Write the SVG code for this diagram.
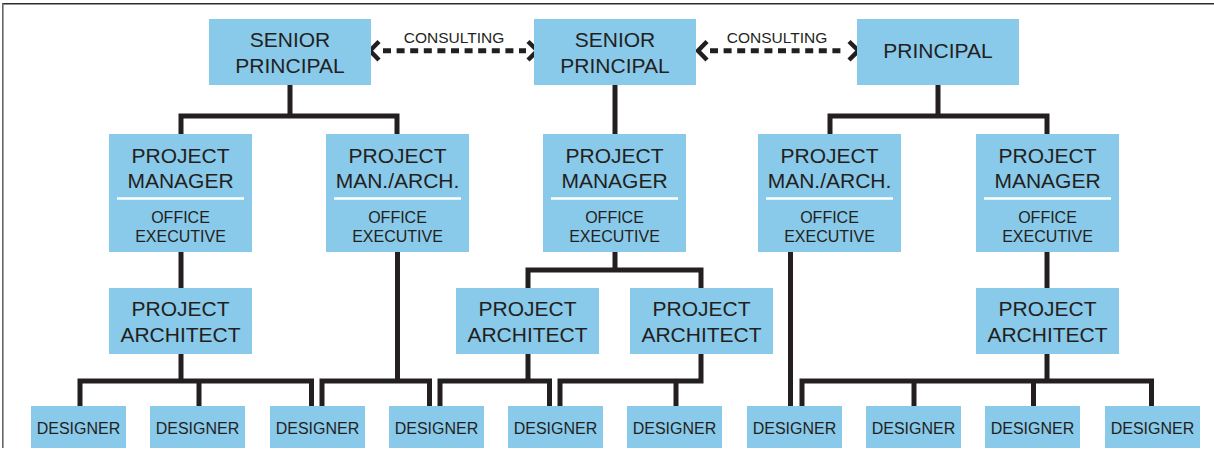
<svg xmlns="http://www.w3.org/2000/svg" width="1214" height="449" viewBox="0 0 1214 449">
<style>
.box{fill:#89c9ea}
.t{font-family:"Liberation Sans",Arial,sans-serif;fill:#231f20;text-anchor:middle}
.big{font-size:21px}
.sm{font-size:16px}
.lbl{font-size:15.5px}
.sep{stroke:#ffffff;stroke-width:2.5}
.ln{fill:none;stroke:#231f20;stroke-width:5;stroke-linejoin:miter;stroke-linecap:butt}
.dash{fill:none;stroke:#231f20;stroke-width:5;stroke-dasharray:8 5.6}
.chev{fill:none;stroke:#231f20;stroke-width:4.5;stroke-linejoin:miter}
</style>
<rect width="1214" height="449" fill="#ffffff"/>
<g id="frame">
<line x1="2" y1="3.8" x2="1214" y2="3.8" stroke="#2b2b2b" stroke-width="1.6"/>
<line x1="2.8" y1="3" x2="2.8" y2="448" stroke="#666666" stroke-width="1.6"/>
</g>
<g id="connectors">
<path class="dash" d="M383 50.7H526"/>
<polyline class="chev" points="379,41.5 370,50.7 379,60"/>
<polyline class="chev" points="528,41.5 537.5,50.7 528,60"/>
<path class="dash" d="M710 50.7H846"/>
<polyline class="chev" points="707,41.5 698,50.7 707,60"/>
<polyline class="chev" points="849,41.5 858.5,50.7 849,60"/>
<path class="ln" d="M290 85V116M181 134V116H397V134"/>
<path class="ln" d="M615 85V134"/>
<path class="ln" d="M938 85V116M830 134V116H1047V134"/>
<path class="ln" d="M181 252V288"/>
<path class="ln" d="M181 354V381M80 406V381H311.5V406M199 381V406"/>
<path class="ln" d="M397.5 252V381M322 406V381H429.5V406"/>
<path class="ln" d="M615 252V270M528 288V270H701V288"/>
<path class="ln" d="M528 354V381M440 406V381H549.5V406"/>
<path class="ln" d="M701 354V381H560V406M676 381V406"/>
<path class="ln" d="M790.5 252V406"/>
<path class="ln" d="M1047 252V288"/>
<path class="ln" d="M1047 354V381M802 406V381H1151.5V406M914 381V406M1033.5 381V406"/>
</g>
<g id="consult1"><text class="t lbl" x="454" y="42.7">CONSULTING</text></g>
<g id="consult2"><text class="t lbl" x="777" y="42.7">CONSULTING</text></g>
<g id="senior1"><rect class="box" x="209" y="19" width="162" height="66"/>
<text class="t big" x="290" y="47">SENIOR</text><text class="t big" x="290" y="73">PRINCIPAL</text></g>
<g id="senior2"><rect class="box" x="534" y="19" width="162" height="66"/>
<text class="t big" x="615" y="47">SENIOR</text><text class="t big" x="615" y="73">PRINCIPAL</text></g>
<g id="principal"><rect class="box" x="857" y="19" width="162" height="66"/>
<text class="t big" x="938" y="58.3">PRINCIPAL</text></g>
<g id="pm1"><rect class="box" x="109" y="134" width="143" height="118"/>
<text class="t big" x="180.5" y="162.5">PROJECT</text><text class="t big" x="180.5" y="188">MANAGER</text>
<line class="sep" x1="117" y1="198.5" x2="244" y2="198.5"/>
<text class="t sm" x="180.5" y="222.5">OFFICE</text><text class="t sm" x="180.5" y="241.5">EXECUTIVE</text></g>
<g id="pma1"><rect class="box" x="326" y="134" width="143" height="118"/>
<text class="t big" x="397.5" y="162.5">PROJECT</text><text class="t big" x="397.5" y="188">MAN./ARCH.</text>
<line class="sep" x1="334" y1="198.5" x2="461" y2="198.5"/>
<text class="t sm" x="397.5" y="222.5">OFFICE</text><text class="t sm" x="397.5" y="241.5">EXECUTIVE</text></g>
<g id="pm2"><rect class="box" x="543" y="134" width="143" height="118"/>
<text class="t big" x="614.5" y="162.5">PROJECT</text><text class="t big" x="614.5" y="188">MANAGER</text>
<line class="sep" x1="551" y1="198.5" x2="678" y2="198.5"/>
<text class="t sm" x="614.5" y="222.5">OFFICE</text><text class="t sm" x="614.5" y="241.5">EXECUTIVE</text></g>
<g id="pma2"><rect class="box" x="758" y="134" width="143" height="118"/>
<text class="t big" x="829.5" y="162.5">PROJECT</text><text class="t big" x="829.5" y="188">MAN./ARCH.</text>
<line class="sep" x1="766" y1="198.5" x2="893" y2="198.5"/>
<text class="t sm" x="829.5" y="222.5">OFFICE</text><text class="t sm" x="829.5" y="241.5">EXECUTIVE</text></g>
<g id="pm3"><rect class="box" x="976" y="134" width="143" height="118"/>
<text class="t big" x="1047.5" y="162.5">PROJECT</text><text class="t big" x="1047.5" y="188">MANAGER</text>
<line class="sep" x1="984" y1="198.5" x2="1111" y2="198.5"/>
<text class="t sm" x="1047.5" y="222.5">OFFICE</text><text class="t sm" x="1047.5" y="241.5">EXECUTIVE</text></g>
<g id="pa1"><rect class="box" x="109" y="288" width="143" height="66"/>
<text class="t big" x="180.5" y="316">PROJECT</text><text class="t big" x="180.5" y="342">ARCHITECT</text></g>
<g id="pa2"><rect class="box" x="456" y="288" width="143" height="66"/>
<text class="t big" x="527.5" y="316">PROJECT</text><text class="t big" x="527.5" y="342">ARCHITECT</text></g>
<g id="pa3"><rect class="box" x="630" y="288" width="143" height="66"/>
<text class="t big" x="701.5" y="316">PROJECT</text><text class="t big" x="701.5" y="342">ARCHITECT</text></g>
<g id="pa4"><rect class="box" x="976" y="288" width="143" height="66"/>
<text class="t big" x="1047.5" y="316">PROJECT</text><text class="t big" x="1047.5" y="342">ARCHITECT</text></g>
<g id="d1"><rect class="box" x="31" y="406" width="95" height="42"/><text class="t sm" x="78.5" y="434">DESIGNER</text></g>
<g id="d2"><rect class="box" x="150" y="406" width="95" height="42"/><text class="t sm" x="197.5" y="434">DESIGNER</text></g>
<g id="d3"><rect class="box" x="270" y="406" width="95" height="42"/><text class="t sm" x="317.5" y="434">DESIGNER</text></g>
<g id="d4"><rect class="box" x="389" y="406" width="95" height="42"/><text class="t sm" x="436.5" y="434">DESIGNER</text></g>
<g id="d5"><rect class="box" x="508" y="406" width="95" height="42"/><text class="t sm" x="555.5" y="434">DESIGNER</text></g>
<g id="d6"><rect class="box" x="627" y="406" width="95" height="42"/><text class="t sm" x="674.5" y="434">DESIGNER</text></g>
<g id="d7"><rect class="box" x="747" y="406" width="95" height="42"/><text class="t sm" x="794.5" y="434">DESIGNER</text></g>
<g id="d8"><rect class="box" x="866" y="406" width="95" height="42"/><text class="t sm" x="913.5" y="434">DESIGNER</text></g>
<g id="d9"><rect class="box" x="985" y="406" width="95" height="42"/><text class="t sm" x="1032.5" y="434">DESIGNER</text></g>
<g id="d10"><rect class="box" x="1105" y="406" width="95" height="42"/><text class="t sm" x="1152.5" y="434">DESIGNER</text></g>
</svg>
